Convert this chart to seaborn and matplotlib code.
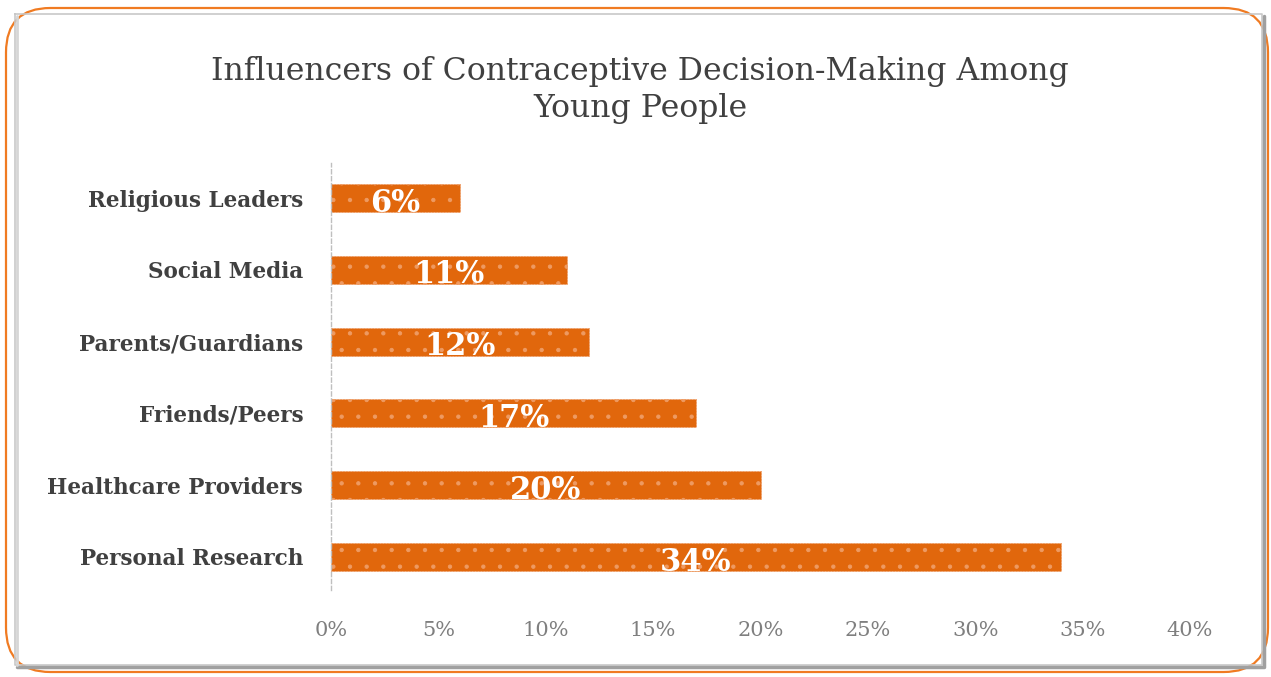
import matplotlib
matplotlib.use("Agg")
import matplotlib.pyplot as plt
from matplotlib.patches import FancyBboxPatch
from matplotlib.lines import Line2D
from matplotlib.ticker import FuncFormatter
import seaborn as sns
import pandas as pd

categories = ["Religious Leaders", "Social Media", "Parents/Guardians",
              "Friends/Peers", "Healthcare Providers", "Personal Research"]
shares = [6, 11, 12, 17, 20, 34]
x_ticks = [0, 5, 10, 15, 20, 25, 30, 35, 40]
title = "Influencers of Contraceptive Decision-Making Among\nYoung People"

df = pd.DataFrame({"category": categories, "share": shares})

sns.set_theme(style="white")
plt.rcParams["font.family"] = ["DejaVu Serif"]
plt.rcParams["hatch.linewidth"] = 0.7

W, H = 1271, 677
fig = plt.figure(figsize=(W / 100, H / 100), dpi=100)
fig.patch.set_facecolor("white")


def fx(px):
    return px / W


def fy(py):
    return 1 - py / H


# card outline with a soft drop shadow on the right and bottom
card = [(15, 14), (1262, 14), (1262, 665), (15, 665), (15, 14)]
fig.add_artist(Line2D([fx(p[0]) for p in card], [fy(p[1]) for p in card],
                      transform=fig.transFigure, color="#c8c8c8", lw=1.2))
fig.add_artist(Line2D([fx(1264), fx(1264), fx(17)], [fy(16), fy(667), fy(667)],
                      transform=fig.transFigure, color="#a0a0a0", lw=2.5))
fig.add_artist(Line2D([fx(17), fx(17)], [fy(16), fy(665)],
                      transform=fig.transFigure, color="#d6d6d6", lw=2))

frame = FancyBboxPatch((fx(6), fy(672)), fx(1262), 664 / H,
                       boxstyle="round,pad=0,rounding_size=0.035",
                       transform=fig.transFigure, facecolor="none",
                       edgecolor="#f07b22", linewidth=1.6,
                       mutation_aspect=W / H)
fig.add_artist(frame)

ax = fig.add_axes([fx(331), 87 / H, (1190 - 331) / W, (590 - 163) / H])
ax.set_facecolor("none")

# dotted orange fill: the light edge colour also paints the hatch dots
sns.barplot(data=df, x="share", y="category", orient="h", ax=ax,
            color="#e1670c", saturation=1, width=0.39,
            edgecolor="#ee9a62", linewidth=0.6, hatch=".")
for patch in ax.patches:
    patch.set_linestyle((0, (2, 1.5)))

for patch, val in zip(ax.patches, shares):
    cx = patch.get_x() + patch.get_width() / 2
    cy = patch.get_y() + patch.get_height() / 2
    ax.text(cx, cy + 0.07, f"{val}%", ha="center", va="center",
            color="white", fontsize=22, fontweight="bold")

ax.set_xlim(0, 40)
ax.set_ylim(5.46, -0.49)
ax.set_xticks(x_ticks)
ax.xaxis.set_major_formatter(FuncFormatter(lambda v, p: f"{int(v)}%"))
ax.tick_params(axis="x", length=0, pad=22, labelsize=15, labelcolor="#7f7f7f")
ax.tick_params(axis="y", length=0, pad=20, labelsize=15.5, labelcolor="#404040")
for lbl in ax.get_yticklabels():
    lbl.set_fontweight("bold")
ax.set_xlabel("")
ax.set_ylabel("")
for side in ["top", "right", "bottom"]:
    ax.spines[side].set_visible(False)
ax.spines["left"].set_color("#bfbfbf")
ax.spines["left"].set_linestyle((0, (3, 2)))
ax.spines["left"].set_linewidth(1)

fig.text(fx(640), fy(90), title, ha="center", va="center",
         fontsize=22.7, color="#404040", linespacing=1.25)

fig.savefig("out.png", dpi=100, facecolor="white")
